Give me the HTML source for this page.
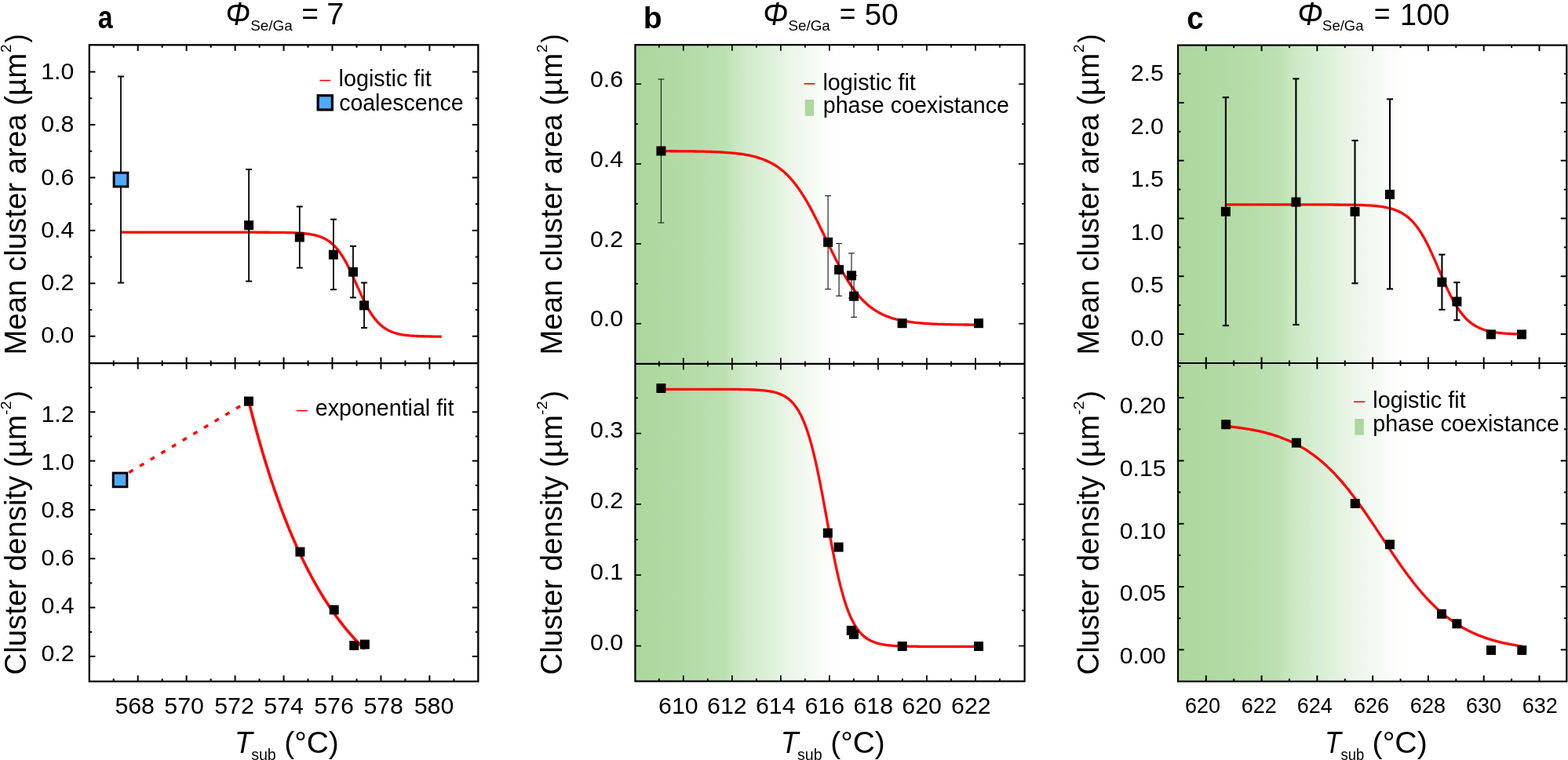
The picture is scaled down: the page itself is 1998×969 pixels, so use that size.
<!DOCTYPE html><html><head><meta charset="utf-8"><title>Cluster figure</title><style>html,body{margin:0;padding:0;background:#fff;overflow:hidden}svg{display:block}</style></head><body><svg width="1998" height="969" viewBox="0 0 1998 969" font-family="'Liberation Sans', Arial, sans-serif" shape-rendering="auto"><defs>
<linearGradient id="gb" gradientUnits="userSpaceOnUse" x1="810" y1="0" x2="1305" y2="0">
<stop offset="0.0000" stop-color="#ADD79E"/>
<stop offset="0.1055" stop-color="#B2DAA4"/>
<stop offset="0.2271" stop-color="#BCE0B1"/>
<stop offset="0.2575" stop-color="#C8E7C1"/>
<stop offset="0.2878" stop-color="#D1EBCB"/>
<stop offset="0.3343" stop-color="#DCEFD7"/>
<stop offset="0.3951" stop-color="#EAF5E8"/>
<stop offset="0.4416" stop-color="#F3F9F1"/>
<stop offset="0.4827" stop-color="#FAFCF9"/>
<stop offset="0.5203" stop-color="#FFFFFF"/>
<stop offset="1" stop-color="#FFFFFF"/>
</linearGradient>
<linearGradient id="gc" gradientUnits="userSpaceOnUse" x1="1501" y1="0" x2="1996" y2="0">
<stop offset="0.0000" stop-color="#ADD79E"/>
<stop offset="0.1192" stop-color="#B2DAA4"/>
<stop offset="0.2566" stop-color="#BCE0B1"/>
<stop offset="0.2909" stop-color="#C8E7C1"/>
<stop offset="0.3253" stop-color="#D1EBCB"/>
<stop offset="0.3778" stop-color="#DCEFD7"/>
<stop offset="0.4465" stop-color="#EAF5E8"/>
<stop offset="0.4990" stop-color="#F3F9F1"/>
<stop offset="0.5455" stop-color="#FAFCF9"/>
<stop offset="0.5879" stop-color="#FFFFFF"/>
<stop offset="1" stop-color="#FFFFFF"/>
</linearGradient>
</defs><rect width="1998" height="969" fill="#fff"/><rect x="809.4" y="57.2" width="496.19999999999993" height="811.4" fill="url(#gb)"/>
<rect x="1501.0" y="57.6" width="495.29999999999995" height="811.1999999999999" fill="url(#gc)"/>
<line x1="175.7" y1="868.8" x2="175.7" y2="861.2" stroke="#000" stroke-width="2"/>
<line x1="175.7" y1="57.3" x2="175.7" y2="64.9" stroke="#000" stroke-width="2"/>
<line x1="175.7" y1="455.5" x2="175.7" y2="470.7" stroke="#000" stroke-width="2"/>
<line x1="237.64" y1="868.8" x2="237.64" y2="861.2" stroke="#000" stroke-width="2"/>
<line x1="237.64" y1="57.3" x2="237.64" y2="64.9" stroke="#000" stroke-width="2"/>
<line x1="237.64" y1="455.5" x2="237.64" y2="470.7" stroke="#000" stroke-width="2"/>
<line x1="299.58" y1="868.8" x2="299.58" y2="861.2" stroke="#000" stroke-width="2"/>
<line x1="299.58" y1="57.3" x2="299.58" y2="64.9" stroke="#000" stroke-width="2"/>
<line x1="299.58" y1="455.5" x2="299.58" y2="470.7" stroke="#000" stroke-width="2"/>
<line x1="361.52" y1="868.8" x2="361.52" y2="861.2" stroke="#000" stroke-width="2"/>
<line x1="361.52" y1="57.3" x2="361.52" y2="64.9" stroke="#000" stroke-width="2"/>
<line x1="361.52" y1="455.5" x2="361.52" y2="470.7" stroke="#000" stroke-width="2"/>
<line x1="423.46" y1="868.8" x2="423.46" y2="861.2" stroke="#000" stroke-width="2"/>
<line x1="423.46" y1="57.3" x2="423.46" y2="64.9" stroke="#000" stroke-width="2"/>
<line x1="423.46" y1="455.5" x2="423.46" y2="470.7" stroke="#000" stroke-width="2"/>
<line x1="485.4" y1="868.8" x2="485.4" y2="861.2" stroke="#000" stroke-width="2"/>
<line x1="485.4" y1="57.3" x2="485.4" y2="64.9" stroke="#000" stroke-width="2"/>
<line x1="485.4" y1="455.5" x2="485.4" y2="470.7" stroke="#000" stroke-width="2"/>
<line x1="547.34" y1="868.8" x2="547.34" y2="861.2" stroke="#000" stroke-width="2"/>
<line x1="547.34" y1="57.3" x2="547.34" y2="64.9" stroke="#000" stroke-width="2"/>
<line x1="547.34" y1="455.5" x2="547.34" y2="470.7" stroke="#000" stroke-width="2"/>
<line x1="144.77" y1="868.8" x2="144.77" y2="865.3" stroke="#000" stroke-width="2"/>
<line x1="144.77" y1="57.3" x2="144.77" y2="60.8" stroke="#000" stroke-width="2"/>
<line x1="144.77" y1="459.6" x2="144.77" y2="466.6" stroke="#000" stroke-width="2"/>
<line x1="206.71" y1="868.8" x2="206.71" y2="865.3" stroke="#000" stroke-width="2"/>
<line x1="206.71" y1="57.3" x2="206.71" y2="60.8" stroke="#000" stroke-width="2"/>
<line x1="206.71" y1="459.6" x2="206.71" y2="466.6" stroke="#000" stroke-width="2"/>
<line x1="268.65" y1="868.8" x2="268.65" y2="865.3" stroke="#000" stroke-width="2"/>
<line x1="268.65" y1="57.3" x2="268.65" y2="60.8" stroke="#000" stroke-width="2"/>
<line x1="268.65" y1="459.6" x2="268.65" y2="466.6" stroke="#000" stroke-width="2"/>
<line x1="330.59" y1="868.8" x2="330.59" y2="865.3" stroke="#000" stroke-width="2"/>
<line x1="330.59" y1="57.3" x2="330.59" y2="60.8" stroke="#000" stroke-width="2"/>
<line x1="330.59" y1="459.6" x2="330.59" y2="466.6" stroke="#000" stroke-width="2"/>
<line x1="392.53" y1="868.8" x2="392.53" y2="865.3" stroke="#000" stroke-width="2"/>
<line x1="392.53" y1="57.3" x2="392.53" y2="60.8" stroke="#000" stroke-width="2"/>
<line x1="392.53" y1="459.6" x2="392.53" y2="466.6" stroke="#000" stroke-width="2"/>
<line x1="454.47" y1="868.8" x2="454.47" y2="865.3" stroke="#000" stroke-width="2"/>
<line x1="454.47" y1="57.3" x2="454.47" y2="60.8" stroke="#000" stroke-width="2"/>
<line x1="454.47" y1="459.6" x2="454.47" y2="466.6" stroke="#000" stroke-width="2"/>
<line x1="516.41" y1="868.8" x2="516.41" y2="865.3" stroke="#000" stroke-width="2"/>
<line x1="516.41" y1="57.3" x2="516.41" y2="60.8" stroke="#000" stroke-width="2"/>
<line x1="516.41" y1="459.6" x2="516.41" y2="466.6" stroke="#000" stroke-width="2"/>
<line x1="578.35" y1="868.8" x2="578.35" y2="865.3" stroke="#000" stroke-width="2"/>
<line x1="578.35" y1="57.3" x2="578.35" y2="60.8" stroke="#000" stroke-width="2"/>
<line x1="578.35" y1="459.6" x2="578.35" y2="466.6" stroke="#000" stroke-width="2"/>
<line x1="113.8" y1="428.7" x2="121.4" y2="428.7" stroke="#000" stroke-width="2"/>
<line x1="609.3" y1="428.7" x2="601.7" y2="428.7" stroke="#000" stroke-width="2"/>
<line x1="113.8" y1="394.99" x2="117.3" y2="394.99" stroke="#000" stroke-width="2"/>
<line x1="609.3" y1="394.99" x2="605.8" y2="394.99" stroke="#000" stroke-width="2"/>
<line x1="113.8" y1="361.28" x2="121.4" y2="361.28" stroke="#000" stroke-width="2"/>
<line x1="609.3" y1="361.28" x2="601.7" y2="361.28" stroke="#000" stroke-width="2"/>
<line x1="113.8" y1="327.57" x2="117.3" y2="327.57" stroke="#000" stroke-width="2"/>
<line x1="609.3" y1="327.57" x2="605.8" y2="327.57" stroke="#000" stroke-width="2"/>
<line x1="113.8" y1="293.86" x2="121.4" y2="293.86" stroke="#000" stroke-width="2"/>
<line x1="609.3" y1="293.86" x2="601.7" y2="293.86" stroke="#000" stroke-width="2"/>
<line x1="113.8" y1="260.15" x2="117.3" y2="260.15" stroke="#000" stroke-width="2"/>
<line x1="609.3" y1="260.15" x2="605.8" y2="260.15" stroke="#000" stroke-width="2"/>
<line x1="113.8" y1="226.44" x2="121.4" y2="226.44" stroke="#000" stroke-width="2"/>
<line x1="609.3" y1="226.44" x2="601.7" y2="226.44" stroke="#000" stroke-width="2"/>
<line x1="113.8" y1="192.73" x2="117.3" y2="192.73" stroke="#000" stroke-width="2"/>
<line x1="609.3" y1="192.73" x2="605.8" y2="192.73" stroke="#000" stroke-width="2"/>
<line x1="113.8" y1="159.02" x2="121.4" y2="159.02" stroke="#000" stroke-width="2"/>
<line x1="609.3" y1="159.02" x2="601.7" y2="159.02" stroke="#000" stroke-width="2"/>
<line x1="113.8" y1="125.31" x2="117.3" y2="125.31" stroke="#000" stroke-width="2"/>
<line x1="609.3" y1="125.31" x2="605.8" y2="125.31" stroke="#000" stroke-width="2"/>
<line x1="113.8" y1="91.6" x2="121.4" y2="91.6" stroke="#000" stroke-width="2"/>
<line x1="609.3" y1="91.6" x2="601.7" y2="91.6" stroke="#000" stroke-width="2"/>
<line x1="113.8" y1="836.9" x2="121.4" y2="836.9" stroke="#000" stroke-width="2"/>
<line x1="609.3" y1="836.9" x2="601.7" y2="836.9" stroke="#000" stroke-width="2"/>
<line x1="113.8" y1="805.74" x2="117.3" y2="805.74" stroke="#000" stroke-width="2"/>
<line x1="609.3" y1="805.74" x2="605.8" y2="805.74" stroke="#000" stroke-width="2"/>
<line x1="113.8" y1="774.58" x2="121.4" y2="774.58" stroke="#000" stroke-width="2"/>
<line x1="609.3" y1="774.58" x2="601.7" y2="774.58" stroke="#000" stroke-width="2"/>
<line x1="113.8" y1="743.42" x2="117.3" y2="743.42" stroke="#000" stroke-width="2"/>
<line x1="609.3" y1="743.42" x2="605.8" y2="743.42" stroke="#000" stroke-width="2"/>
<line x1="113.8" y1="712.26" x2="121.4" y2="712.26" stroke="#000" stroke-width="2"/>
<line x1="609.3" y1="712.26" x2="601.7" y2="712.26" stroke="#000" stroke-width="2"/>
<line x1="113.8" y1="681.1" x2="117.3" y2="681.1" stroke="#000" stroke-width="2"/>
<line x1="609.3" y1="681.1" x2="605.8" y2="681.1" stroke="#000" stroke-width="2"/>
<line x1="113.8" y1="649.94" x2="121.4" y2="649.94" stroke="#000" stroke-width="2"/>
<line x1="609.3" y1="649.94" x2="601.7" y2="649.94" stroke="#000" stroke-width="2"/>
<line x1="113.8" y1="618.78" x2="117.3" y2="618.78" stroke="#000" stroke-width="2"/>
<line x1="609.3" y1="618.78" x2="605.8" y2="618.78" stroke="#000" stroke-width="2"/>
<line x1="113.8" y1="587.62" x2="121.4" y2="587.62" stroke="#000" stroke-width="2"/>
<line x1="609.3" y1="587.62" x2="601.7" y2="587.62" stroke="#000" stroke-width="2"/>
<line x1="113.8" y1="556.46" x2="117.3" y2="556.46" stroke="#000" stroke-width="2"/>
<line x1="609.3" y1="556.46" x2="605.8" y2="556.46" stroke="#000" stroke-width="2"/>
<line x1="113.8" y1="525.3" x2="121.4" y2="525.3" stroke="#000" stroke-width="2"/>
<line x1="609.3" y1="525.3" x2="601.7" y2="525.3" stroke="#000" stroke-width="2"/>
<line x1="113.8" y1="494.14" x2="117.3" y2="494.14" stroke="#000" stroke-width="2"/>
<line x1="609.3" y1="494.14" x2="605.8" y2="494.14" stroke="#000" stroke-width="2"/>
<rect x="113.8" y="57.3" width="495.5" height="811.5" fill="none" stroke="#000" stroke-width="2.3"/>
<line x1="113.8" y1="463.1" x2="609.3" y2="463.1" stroke="#000" stroke-width="2.3"/>
<text x="171.7" y="909.6" font-size="30.3" text-anchor="middle">568</text>
<text x="234.65" y="909.6" font-size="30.3" text-anchor="middle">570</text>
<text x="298.55" y="909.6" font-size="30.3" text-anchor="middle">572</text>
<text x="361.6" y="909.6" font-size="30.3" text-anchor="middle">574</text>
<text x="425.5" y="909.6" font-size="30.3" text-anchor="middle">576</text>
<text x="488.7" y="909.6" font-size="30.3" text-anchor="middle">578</text>
<text x="553" y="909.6" font-size="30.3" text-anchor="middle">580</text>
<text x="94.3" y="437.3" font-size="30.3" text-anchor="end">0.0</text>
<text x="94.3" y="370.3" font-size="30.3" text-anchor="end">0.2</text>
<text x="94.3" y="303.4" font-size="30.3" text-anchor="end">0.4</text>
<text x="94.3" y="235.8" font-size="30.3" text-anchor="end">0.6</text>
<text x="94.3" y="168.3" font-size="30.3" text-anchor="end">0.8</text>
<text x="94.3" y="101.3" font-size="30.3" text-anchor="end">1.0</text>
<text x="94.6" y="843.2" font-size="30.3" text-anchor="end">0.2</text>
<text x="94.6" y="782.2" font-size="30.3" text-anchor="end">0.4</text>
<text x="94.6" y="721.2" font-size="30.3" text-anchor="end">0.6</text>
<text x="94.6" y="659.8" font-size="30.3" text-anchor="end">0.8</text>
<text x="94.6" y="599.1" font-size="30.3" text-anchor="end">1.0</text>
<text x="94.6" y="537.9" font-size="30.3" text-anchor="end">1.2</text>
<path d="M154.80,296.20 L158.20,296.20 L161.60,296.20 L165.00,296.20 L168.40,296.20 L171.80,296.20 L175.20,296.20 L178.60,296.20 L182.00,296.20 L185.40,296.20 L188.80,296.20 L192.20,296.20 L195.60,296.20 L199.00,296.20 L202.40,296.20 L205.80,296.20 L209.20,296.20 L212.60,296.20 L216.00,296.20 L219.40,296.20 L222.80,296.20 L226.20,296.20 L229.60,296.20 L233.00,296.20 L236.40,296.20 L239.80,296.20 L243.20,296.20 L246.60,296.20 L250.00,296.20 L253.40,296.20 L256.80,296.20 L260.20,296.20 L263.60,296.20 L267.00,296.20 L270.40,296.20 L273.80,296.20 L277.20,296.20 L280.60,296.20 L284.00,296.20 L287.40,296.20 L290.80,296.20 L294.20,296.20 L297.60,296.20 L301.00,296.20 L304.40,296.21 L307.80,296.21 L311.20,296.21 L314.60,296.21 L318.00,296.21 L321.40,296.22 L324.80,296.22 L328.20,296.23 L331.60,296.23 L335.00,296.24 L338.40,296.25 L341.80,296.27 L345.20,296.28 L348.60,296.30 L352.00,296.33 L355.40,296.37 L358.80,296.41 L362.20,296.46 L365.60,296.53 L369.00,296.62 L372.40,296.72 L375.80,296.86 L379.20,297.03 L382.60,297.24 L386.00,297.50 L389.40,297.83 L392.80,298.25 L396.20,298.77 L399.60,299.42 L403.00,300.22 L406.40,301.23 L409.80,302.46 L413.20,303.99 L416.60,305.85 L420.00,308.12 L423.40,310.87 L426.80,314.15 L430.20,318.02 L433.60,322.55 L437.00,327.74 L440.40,333.60 L443.80,340.08 L447.20,347.08 L450.60,354.47 L454.00,362.07 L457.40,369.69 L460.80,377.13 L464.20,384.20 L467.60,390.77 L471.00,396.74 L474.40,402.04 L477.80,406.68 L481.20,410.66 L484.60,414.03 L488.00,416.86 L491.40,419.20 L494.80,421.13 L498.20,422.71 L501.60,423.99 L505.00,425.03 L508.40,425.86 L511.80,426.53 L515.20,427.07 L518.60,427.50 L522.00,427.85 L525.40,428.12 L528.80,428.34 L532.20,428.52 L535.60,428.66 L539.00,428.77 L542.40,428.86 L545.80,428.93 L549.20,428.98 L552.60,429.03 L556.00,429.06 L559.40,429.09 L562.80,429.11" fill="none" stroke="#FF0000" stroke-width="3.3" stroke-linejoin="round"/>
<line x1="154" y1="97.5" x2="154" y2="360.5" stroke="#000" stroke-width="1.8"/>
<line x1="150" y1="97.5" x2="158" y2="97.5" stroke="#000" stroke-width="2"/>
<line x1="150" y1="360.5" x2="158" y2="360.5" stroke="#000" stroke-width="2"/>
<rect x="145.15" y="220.25" width="17.7" height="17.7" fill="#50AAFF" stroke="#000" stroke-width="3"/>
<line x1="317.1" y1="216" x2="317.1" y2="358.6" stroke="#000" stroke-width="1.8"/>
<line x1="313.1" y1="216" x2="321.1" y2="216" stroke="#000" stroke-width="2"/>
<line x1="313.1" y1="358.6" x2="321.1" y2="358.6" stroke="#000" stroke-width="2"/>
<rect x="311.1" y="281.2" width="12" height="12" fill="#000"/>
<line x1="381.8" y1="263.4" x2="381.8" y2="341.5" stroke="#000" stroke-width="1.8"/>
<line x1="377.8" y1="263.4" x2="385.8" y2="263.4" stroke="#000" stroke-width="2"/>
<line x1="377.8" y1="341.5" x2="385.8" y2="341.5" stroke="#000" stroke-width="2"/>
<rect x="375.8" y="296.5" width="12" height="12" fill="#000"/>
<line x1="424.9" y1="279.7" x2="424.9" y2="369.2" stroke="#000" stroke-width="1.8"/>
<line x1="420.9" y1="279.7" x2="428.9" y2="279.7" stroke="#000" stroke-width="2"/>
<line x1="420.9" y1="369.2" x2="428.9" y2="369.2" stroke="#000" stroke-width="2"/>
<rect x="418.9" y="318.7" width="12" height="12" fill="#000"/>
<line x1="449.9" y1="313.8" x2="449.9" y2="379.4" stroke="#000" stroke-width="1.8"/>
<line x1="445.9" y1="313.8" x2="453.9" y2="313.8" stroke="#000" stroke-width="2"/>
<line x1="445.9" y1="379.4" x2="453.9" y2="379.4" stroke="#000" stroke-width="2"/>
<rect x="443.9" y="340.7" width="12" height="12" fill="#000"/>
<line x1="464" y1="360.5" x2="464" y2="418" stroke="#000" stroke-width="1.8"/>
<line x1="460" y1="360.5" x2="468" y2="360.5" stroke="#000" stroke-width="2"/>
<line x1="460" y1="418" x2="468" y2="418" stroke="#000" stroke-width="2"/>
<rect x="458" y="383.4" width="12" height="12" fill="#000"/>
<line x1="407.3" y1="102.6" x2="421.2" y2="102.6" stroke="#FF0000" stroke-width="1.6"/>
<text x="431.58" y="110" font-size="29" textLength="118.08" lengthAdjust="spacingAndGlyphs">logistic fit</text>
<rect x="405.15" y="121.75" width="18.2" height="18.2" fill="#50AAFF" stroke="#000" stroke-width="3.2"/>
<text x="432.17" y="140.8" font-size="29" textLength="158.44" lengthAdjust="spacingAndGlyphs">coalescence</text>
<path d="M163.4,603 L308.4,516.4" fill="none" stroke="#FF0000" stroke-width="3.5" stroke-linejoin="round" stroke-dasharray="6 9.9" stroke-dashoffset="-1.2"/>
<path d="M316.50,509.85 L317.73,514.79 L318.97,519.67 L320.20,524.49 L321.43,529.26 L322.67,533.96 L323.90,538.62 L325.13,543.22 L326.37,547.76 L327.60,552.25 L328.83,556.69 L330.07,561.07 L331.30,565.41 L332.53,569.69 L333.77,573.92 L335.00,578.10 L336.23,582.24 L337.47,586.32 L338.70,590.35 L339.93,594.34 L341.17,598.28 L342.40,602.18 L343.63,606.03 L344.87,609.83 L346.10,613.59 L347.33,617.30 L348.57,620.97 L349.80,624.60 L351.03,628.18 L352.27,631.72 L353.50,635.22 L354.73,638.68 L355.97,642.09 L357.20,645.47 L358.43,648.81 L359.67,652.11 L360.90,655.36 L362.13,658.59 L363.37,661.77 L364.60,664.91 L365.83,668.02 L367.07,671.09 L368.30,674.12 L369.53,677.12 L370.77,680.09 L372.00,683.02 L373.23,685.91 L374.47,688.77 L375.70,691.59 L376.93,694.39 L378.17,697.15 L379.40,699.87 L380.63,702.57 L381.87,705.23 L383.10,707.86 L384.33,710.46 L385.57,713.03 L386.80,715.57 L388.03,718.08 L389.27,720.56 L390.50,723.01 L391.73,725.43 L392.97,727.83 L394.20,730.19 L395.43,732.53 L396.67,734.84 L397.90,737.12 L399.13,739.37 L400.37,741.60 L401.60,743.81 L402.83,745.98 L404.07,748.13 L405.30,750.26 L406.53,752.36 L407.77,754.43 L409.00,756.48 L410.23,758.51 L411.47,760.51 L412.70,762.49 L413.93,764.45 L415.17,766.38 L416.40,768.29 L417.63,770.17 L418.87,772.04 L420.10,773.88 L421.33,775.70 L422.57,777.50 L423.80,779.28 L425.03,781.04 L426.27,782.78 L427.50,784.49 L428.73,786.19 L429.97,787.86 L431.20,789.52 L432.43,791.16 L433.67,792.77 L434.90,794.37 L436.13,795.95 L437.37,797.51 L438.60,799.05 L439.83,800.58 L441.07,802.08 L442.30,803.57 L443.53,805.04 L444.77,806.49 L446.00,807.93 L447.23,809.35 L448.47,810.75 L449.70,812.14 L450.93,813.51 L452.17,814.86 L453.40,816.20 L454.63,817.52 L455.87,818.82 L457.10,820.11 L458.33,821.39 L459.57,822.65 L460.80,823.90 L462.03,825.13 L463.27,826.34 L464.50,827.54" fill="none" stroke="#FF0000" stroke-width="3.6" stroke-linejoin="round"/>
<rect x="144.25" y="603.1" width="17.6" height="17.6" fill="#50AAFF" stroke="#000" stroke-width="3"/>
<rect x="310.9" y="505.6" width="12" height="12" fill="#000"/>
<rect x="376.4" y="697.6" width="12" height="12" fill="#000"/>
<rect x="419.7" y="771.5" width="12" height="12" fill="#000"/>
<rect x="445.2" y="817" width="12" height="12" fill="#000"/>
<rect x="458.8" y="815.6" width="12" height="12" fill="#000"/>
<line x1="377.8" y1="523.6" x2="391.9" y2="523.6" stroke="#FF0000" stroke-width="1.6"/>
<text x="401.86" y="529.7" font-size="29" textLength="176.56" lengthAdjust="spacingAndGlyphs">exponential fit</text>
<text x="124.63" y="36.2" font-size="40" font-weight="bold" textLength="18.89" lengthAdjust="spacingAndGlyphs">a</text>
<text x="287.4" y="31.8" font-size="42.5" font-style="italic" textLength="31.44" lengthAdjust="spacingAndGlyphs">Φ</text>
<text x="319.2" y="38.8" font-size="19" textLength="53.45" lengthAdjust="spacingAndGlyphs">Se/Ga</text>
<text x="384.19" y="31.1" font-size="38" textLength="21.67" lengthAdjust="spacingAndGlyphs">=</text>
<text x="416.36" y="31.1" font-size="38" textLength="22.12" lengthAdjust="spacingAndGlyphs">7</text>
<text transform="translate(33.2,452.62) rotate(-90)" x="0" y="0" font-size="38" textLength="384.73" lengthAdjust="spacingAndGlyphs">Mean cluster area (µm</text>
<text transform="translate(14,66.9) rotate(-90)" x="0" y="0" font-size="19" textLength="10.51" lengthAdjust="spacingAndGlyphs">2</text>
<text transform="translate(33.2,54.48) rotate(-90)" x="0" y="0" font-size="37" textLength="11.02" lengthAdjust="spacingAndGlyphs">)</text>
<text transform="translate(33.2,860.47) rotate(-90)" x="0" y="0" font-size="38" textLength="331.37" lengthAdjust="spacingAndGlyphs">Cluster density (µm</text>
<text transform="translate(14,528.94) rotate(-90)" x="0" y="0" font-size="19" textLength="17.56" lengthAdjust="spacingAndGlyphs">-2</text>
<text transform="translate(33.2,510.22) rotate(-90)" x="0" y="0" font-size="37" textLength="12.17" lengthAdjust="spacingAndGlyphs">)</text>
<text x="298.93" y="959.6" font-size="39.5" font-style="italic" textLength="22.54" lengthAdjust="spacingAndGlyphs">T</text>
<text x="320.16" y="968.6" font-size="20" textLength="31.62" lengthAdjust="spacingAndGlyphs">sub</text>
<text x="362.32" y="960.2" font-size="39.5" textLength="69.48" lengthAdjust="spacingAndGlyphs">(°C)</text>
<line x1="870.8" y1="868.6" x2="870.8" y2="861" stroke="#000" stroke-width="1.7"/>
<line x1="870.8" y1="57.2" x2="870.8" y2="64.8" stroke="#000" stroke-width="1.7"/>
<line x1="870.8" y1="456.3" x2="870.8" y2="471.5" stroke="#000" stroke-width="1.7"/>
<line x1="932.83" y1="868.6" x2="932.83" y2="861" stroke="#000" stroke-width="1.7"/>
<line x1="932.83" y1="57.2" x2="932.83" y2="64.8" stroke="#000" stroke-width="1.7"/>
<line x1="932.83" y1="456.3" x2="932.83" y2="471.5" stroke="#000" stroke-width="1.7"/>
<line x1="994.86" y1="868.6" x2="994.86" y2="861" stroke="#000" stroke-width="1.7"/>
<line x1="994.86" y1="57.2" x2="994.86" y2="64.8" stroke="#000" stroke-width="1.7"/>
<line x1="994.86" y1="456.3" x2="994.86" y2="471.5" stroke="#000" stroke-width="1.7"/>
<line x1="1056.89" y1="868.6" x2="1056.89" y2="861" stroke="#000" stroke-width="1.7"/>
<line x1="1056.89" y1="57.2" x2="1056.89" y2="64.8" stroke="#000" stroke-width="1.7"/>
<line x1="1056.89" y1="456.3" x2="1056.89" y2="471.5" stroke="#000" stroke-width="1.7"/>
<line x1="1118.92" y1="868.6" x2="1118.92" y2="861" stroke="#000" stroke-width="1.7"/>
<line x1="1118.92" y1="57.2" x2="1118.92" y2="64.8" stroke="#000" stroke-width="1.7"/>
<line x1="1118.92" y1="456.3" x2="1118.92" y2="471.5" stroke="#000" stroke-width="1.7"/>
<line x1="1180.95" y1="868.6" x2="1180.95" y2="861" stroke="#000" stroke-width="1.7"/>
<line x1="1180.95" y1="57.2" x2="1180.95" y2="64.8" stroke="#000" stroke-width="1.7"/>
<line x1="1180.95" y1="456.3" x2="1180.95" y2="471.5" stroke="#000" stroke-width="1.7"/>
<line x1="1242.98" y1="868.6" x2="1242.98" y2="861" stroke="#000" stroke-width="1.7"/>
<line x1="1242.98" y1="57.2" x2="1242.98" y2="64.8" stroke="#000" stroke-width="1.7"/>
<line x1="1242.98" y1="456.3" x2="1242.98" y2="471.5" stroke="#000" stroke-width="1.7"/>
<line x1="839.8" y1="868.6" x2="839.8" y2="865.1" stroke="#000" stroke-width="1.7"/>
<line x1="839.8" y1="57.2" x2="839.8" y2="60.7" stroke="#000" stroke-width="1.7"/>
<line x1="839.8" y1="460.4" x2="839.8" y2="467.4" stroke="#000" stroke-width="1.7"/>
<line x1="901.83" y1="868.6" x2="901.83" y2="865.1" stroke="#000" stroke-width="1.7"/>
<line x1="901.83" y1="57.2" x2="901.83" y2="60.7" stroke="#000" stroke-width="1.7"/>
<line x1="901.83" y1="460.4" x2="901.83" y2="467.4" stroke="#000" stroke-width="1.7"/>
<line x1="963.86" y1="868.6" x2="963.86" y2="865.1" stroke="#000" stroke-width="1.7"/>
<line x1="963.86" y1="57.2" x2="963.86" y2="60.7" stroke="#000" stroke-width="1.7"/>
<line x1="963.86" y1="460.4" x2="963.86" y2="467.4" stroke="#000" stroke-width="1.7"/>
<line x1="1025.89" y1="868.6" x2="1025.89" y2="865.1" stroke="#000" stroke-width="1.7"/>
<line x1="1025.89" y1="57.2" x2="1025.89" y2="60.7" stroke="#000" stroke-width="1.7"/>
<line x1="1025.89" y1="460.4" x2="1025.89" y2="467.4" stroke="#000" stroke-width="1.7"/>
<line x1="1087.92" y1="868.6" x2="1087.92" y2="865.1" stroke="#000" stroke-width="1.7"/>
<line x1="1087.92" y1="57.2" x2="1087.92" y2="60.7" stroke="#000" stroke-width="1.7"/>
<line x1="1087.92" y1="460.4" x2="1087.92" y2="467.4" stroke="#000" stroke-width="1.7"/>
<line x1="1149.95" y1="868.6" x2="1149.95" y2="865.1" stroke="#000" stroke-width="1.7"/>
<line x1="1149.95" y1="57.2" x2="1149.95" y2="60.7" stroke="#000" stroke-width="1.7"/>
<line x1="1149.95" y1="460.4" x2="1149.95" y2="467.4" stroke="#000" stroke-width="1.7"/>
<line x1="1211.98" y1="868.6" x2="1211.98" y2="865.1" stroke="#000" stroke-width="1.7"/>
<line x1="1211.98" y1="57.2" x2="1211.98" y2="60.7" stroke="#000" stroke-width="1.7"/>
<line x1="1211.98" y1="460.4" x2="1211.98" y2="467.4" stroke="#000" stroke-width="1.7"/>
<line x1="1274.01" y1="868.6" x2="1274.01" y2="865.1" stroke="#000" stroke-width="1.7"/>
<line x1="1274.01" y1="57.2" x2="1274.01" y2="60.7" stroke="#000" stroke-width="1.7"/>
<line x1="1274.01" y1="460.4" x2="1274.01" y2="467.4" stroke="#000" stroke-width="1.7"/>
<line x1="809.4" y1="412.7" x2="817" y2="412.7" stroke="#000" stroke-width="1.7"/>
<line x1="1305.6" y1="412.7" x2="1298" y2="412.7" stroke="#000" stroke-width="1.7"/>
<line x1="809.4" y1="361.78" x2="812.9" y2="361.78" stroke="#000" stroke-width="1.7"/>
<line x1="1305.6" y1="361.78" x2="1302.1" y2="361.78" stroke="#000" stroke-width="1.7"/>
<line x1="809.4" y1="310.86" x2="817" y2="310.86" stroke="#000" stroke-width="1.7"/>
<line x1="1305.6" y1="310.86" x2="1298" y2="310.86" stroke="#000" stroke-width="1.7"/>
<line x1="809.4" y1="259.94" x2="812.9" y2="259.94" stroke="#000" stroke-width="1.7"/>
<line x1="1305.6" y1="259.94" x2="1302.1" y2="259.94" stroke="#000" stroke-width="1.7"/>
<line x1="809.4" y1="209.02" x2="817" y2="209.02" stroke="#000" stroke-width="1.7"/>
<line x1="1305.6" y1="209.02" x2="1298" y2="209.02" stroke="#000" stroke-width="1.7"/>
<line x1="809.4" y1="158.1" x2="812.9" y2="158.1" stroke="#000" stroke-width="1.7"/>
<line x1="1305.6" y1="158.1" x2="1302.1" y2="158.1" stroke="#000" stroke-width="1.7"/>
<line x1="809.4" y1="107.18" x2="817" y2="107.18" stroke="#000" stroke-width="1.7"/>
<line x1="1305.6" y1="107.18" x2="1298" y2="107.18" stroke="#000" stroke-width="1.7"/>
<line x1="809.4" y1="823.5" x2="817" y2="823.5" stroke="#000" stroke-width="1.7"/>
<line x1="1305.6" y1="823.5" x2="1298" y2="823.5" stroke="#000" stroke-width="1.7"/>
<line x1="809.4" y1="778.35" x2="812.9" y2="778.35" stroke="#000" stroke-width="1.7"/>
<line x1="1305.6" y1="778.35" x2="1302.1" y2="778.35" stroke="#000" stroke-width="1.7"/>
<line x1="809.4" y1="733.2" x2="817" y2="733.2" stroke="#000" stroke-width="1.7"/>
<line x1="1305.6" y1="733.2" x2="1298" y2="733.2" stroke="#000" stroke-width="1.7"/>
<line x1="809.4" y1="688.05" x2="812.9" y2="688.05" stroke="#000" stroke-width="1.7"/>
<line x1="1305.6" y1="688.05" x2="1302.1" y2="688.05" stroke="#000" stroke-width="1.7"/>
<line x1="809.4" y1="642.9" x2="817" y2="642.9" stroke="#000" stroke-width="1.7"/>
<line x1="1305.6" y1="642.9" x2="1298" y2="642.9" stroke="#000" stroke-width="1.7"/>
<line x1="809.4" y1="597.75" x2="812.9" y2="597.75" stroke="#000" stroke-width="1.7"/>
<line x1="1305.6" y1="597.75" x2="1302.1" y2="597.75" stroke="#000" stroke-width="1.7"/>
<line x1="809.4" y1="552.6" x2="817" y2="552.6" stroke="#000" stroke-width="1.7"/>
<line x1="1305.6" y1="552.6" x2="1298" y2="552.6" stroke="#000" stroke-width="1.7"/>
<line x1="809.4" y1="507.45" x2="812.9" y2="507.45" stroke="#000" stroke-width="1.7"/>
<line x1="1305.6" y1="507.45" x2="1302.1" y2="507.45" stroke="#000" stroke-width="1.7"/>
<rect x="809.4" y="57.2" width="496.2" height="811.4" fill="none" stroke="#000" stroke-width="2.2"/>
<line x1="809.4" y1="463.9" x2="1305.6" y2="463.9" stroke="#000" stroke-width="2.2"/>
<text x="864.4" y="909.6" font-size="30.3" text-anchor="middle">610</text>
<text x="926.4" y="909.6" font-size="30.3" text-anchor="middle">612</text>
<text x="988.3" y="909.6" font-size="30.3" text-anchor="middle">614</text>
<text x="1050.9" y="909.6" font-size="30.3" text-anchor="middle">616</text>
<text x="1112.8" y="909.6" font-size="30.3" text-anchor="middle">618</text>
<text x="1174.6" y="909.6" font-size="30.3" text-anchor="middle">620</text>
<text x="1237.4" y="909.6" font-size="30.3" text-anchor="middle">622</text>
<text x="794" y="416.4" font-size="30.3" text-anchor="end">0.0</text>
<text x="794" y="314.5" font-size="30.3" text-anchor="end">0.2</text>
<text x="794" y="212.6" font-size="30.3" text-anchor="end">0.4</text>
<text x="794" y="110.7" font-size="30.3" text-anchor="end">0.6</text>
<text x="794" y="828.9" font-size="30.3" text-anchor="end">0.0</text>
<text x="794" y="739" font-size="30.3" text-anchor="end">0.1</text>
<text x="794" y="648.3" font-size="30.3" text-anchor="end">0.2</text>
<text x="794" y="557.5" font-size="30.3" text-anchor="end">0.3</text>
<path d="M842.40,192.67 L845.77,192.68 L849.14,192.70 L852.51,192.71 L855.89,192.73 L859.26,192.74 L862.63,192.77 L866.00,192.79 L869.37,192.82 L872.75,192.85 L876.12,192.88 L879.49,192.92 L882.86,192.97 L886.23,193.02 L889.60,193.08 L892.98,193.14 L896.35,193.22 L899.72,193.30 L903.09,193.40 L906.46,193.51 L909.83,193.63 L913.20,193.77 L916.58,193.93 L919.95,194.11 L923.32,194.31 L926.69,194.54 L930.06,194.81 L933.43,195.10 L936.81,195.44 L940.18,195.82 L943.55,196.25 L946.92,196.74 L950.29,197.29 L953.66,197.92 L957.04,198.62 L960.41,199.41 L963.78,200.31 L967.15,201.32 L970.52,202.45 L973.89,203.72 L977.27,205.14 L980.64,206.74 L984.01,208.52 L987.38,210.51 L990.75,212.72 L994.12,215.17 L997.50,217.89 L1000.87,220.88 L1004.24,224.18 L1007.61,227.78 L1010.98,231.72 L1014.36,235.99 L1017.73,240.60 L1021.10,245.56 L1024.47,250.86 L1027.84,256.49 L1031.21,262.43 L1034.59,268.66 L1037.96,275.14 L1041.33,281.84 L1044.70,288.70 L1048.07,295.68 L1051.44,302.72 L1054.82,309.76 L1058.19,316.76 L1061.56,323.65 L1064.93,330.38 L1068.30,336.90 L1071.67,343.18 L1075.05,349.18 L1078.42,354.88 L1081.79,360.24 L1085.16,365.27 L1088.53,369.96 L1091.90,374.30 L1095.28,378.30 L1098.65,381.97 L1102.02,385.32 L1105.39,388.38 L1108.76,391.15 L1112.13,393.65 L1115.50,395.91 L1118.88,397.94 L1122.25,399.76 L1125.62,401.39 L1128.99,402.85 L1132.36,404.15 L1135.74,405.31 L1139.11,406.34 L1142.48,407.25 L1145.85,408.07 L1149.22,408.79 L1152.59,409.43 L1155.96,409.99 L1159.34,410.49 L1162.71,410.93 L1166.08,411.33 L1169.45,411.67 L1172.82,411.98 L1176.19,412.25 L1179.57,412.48 L1182.94,412.69 L1186.31,412.88 L1189.68,413.04 L1193.05,413.18 L1196.42,413.31 L1199.80,413.42 L1203.17,413.52 L1206.54,413.61 L1209.91,413.68 L1213.28,413.75 L1216.65,413.81 L1220.03,413.86 L1223.40,413.91 L1226.77,413.95 L1230.14,413.99 L1233.51,414.02 L1236.88,414.05 L1240.26,414.07 L1243.63,414.09 L1247.00,414.11" fill="none" stroke="#FF0000" stroke-width="3.3" stroke-linejoin="round"/>
<line x1="842.4" y1="101" x2="842.4" y2="284" stroke="#222" stroke-width="1.2"/>
<line x1="838.5" y1="101" x2="846.3" y2="101" stroke="#222" stroke-width="1.2"/>
<line x1="838.5" y1="284" x2="846.3" y2="284" stroke="#222" stroke-width="1.2"/>
<line x1="1055.1" y1="249.6" x2="1055.1" y2="368.7" stroke="#222" stroke-width="1.2"/>
<line x1="1051.2" y1="249.6" x2="1059" y2="249.6" stroke="#222" stroke-width="1.2"/>
<line x1="1051.2" y1="368.7" x2="1059" y2="368.7" stroke="#222" stroke-width="1.2"/>
<line x1="1069.1" y1="310.5" x2="1069.1" y2="377.3" stroke="#222" stroke-width="1.2"/>
<line x1="1065.2" y1="310.5" x2="1073" y2="310.5" stroke="#222" stroke-width="1.2"/>
<line x1="1065.2" y1="377.3" x2="1073" y2="377.3" stroke="#222" stroke-width="1.2"/>
<line x1="1085" y1="322.9" x2="1085" y2="380" stroke="#222" stroke-width="1.2"/>
<line x1="1081.1" y1="322.9" x2="1088.9" y2="322.9" stroke="#222" stroke-width="1.2"/>
<line x1="1081.1" y1="380" x2="1088.9" y2="380" stroke="#222" stroke-width="1.2"/>
<line x1="1088.1" y1="351.3" x2="1088.1" y2="404.4" stroke="#222" stroke-width="1.2"/>
<line x1="1084.2" y1="351.3" x2="1092" y2="351.3" stroke="#222" stroke-width="1.2"/>
<line x1="1084.2" y1="404.4" x2="1092" y2="404.4" stroke="#222" stroke-width="1.2"/>
<rect x="836.4" y="186.5" width="12" height="12" fill="#000"/>
<rect x="1049.1" y="302.8" width="12" height="12" fill="#000"/>
<rect x="1063.1" y="337.9" width="12" height="12" fill="#000"/>
<rect x="1079" y="345.3" width="12" height="12" fill="#000"/>
<rect x="1082.1" y="371.7" width="12" height="12" fill="#000"/>
<rect x="1143.6" y="406.2" width="12" height="12" fill="#000"/>
<rect x="1241" y="406.2" width="12" height="12" fill="#000"/>
<line x1="1024.5" y1="106.8" x2="1038.6" y2="106.8" stroke="#FF0000" stroke-width="1.6"/>
<text x="1048.38" y="114.8" font-size="29" textLength="118.48" lengthAdjust="spacingAndGlyphs">logistic fit</text>
<rect x="1025.7" y="127.1" width="11.4" height="20.7" fill="#ADD79E"/>
<text x="1048.79" y="144.2" font-size="29" textLength="237.1" lengthAdjust="spacingAndGlyphs">phase coexistance</text>
<path d="M842.20,496.30 L845.57,496.30 L848.95,496.30 L852.32,496.30 L855.69,496.30 L859.07,496.30 L862.44,496.30 L865.81,496.30 L869.19,496.30 L872.56,496.30 L875.93,496.30 L879.31,496.30 L882.68,496.30 L886.05,496.30 L889.43,496.31 L892.80,496.31 L896.17,496.31 L899.55,496.31 L902.92,496.31 L906.29,496.32 L909.67,496.32 L913.04,496.33 L916.41,496.33 L919.79,496.34 L923.16,496.35 L926.53,496.37 L929.91,496.39 L933.28,496.41 L936.65,496.43 L940.03,496.47 L943.40,496.51 L946.77,496.56 L950.15,496.63 L953.52,496.72 L956.89,496.82 L960.27,496.95 L963.64,497.12 L967.01,497.32 L970.39,497.58 L973.76,497.90 L977.13,498.30 L980.51,498.81 L983.88,499.44 L987.25,500.22 L990.63,501.20 L994.00,502.41 L997.37,503.92 L1000.75,505.79 L1004.12,508.11 L1007.49,510.96 L1010.87,514.46 L1014.24,518.74 L1017.61,523.94 L1020.99,530.21 L1024.36,537.70 L1027.73,546.57 L1031.11,556.93 L1034.48,568.88 L1037.85,582.41 L1041.23,597.48 L1044.60,613.90 L1047.97,631.40 L1051.35,649.60 L1054.72,668.08 L1058.09,686.36 L1061.47,704.00 L1064.84,720.61 L1068.21,735.92 L1071.59,749.71 L1074.96,761.92 L1078.33,772.54 L1081.71,781.64 L1085.08,789.35 L1088.45,795.81 L1091.83,801.17 L1095.20,805.59 L1098.57,809.22 L1101.95,812.17 L1105.32,814.56 L1108.69,816.50 L1112.07,818.06 L1115.44,819.32 L1118.81,820.34 L1122.19,821.15 L1125.56,821.80 L1128.93,822.32 L1132.31,822.74 L1135.68,823.07 L1139.05,823.34 L1142.43,823.55 L1145.80,823.72 L1149.17,823.86 L1152.55,823.97 L1155.92,824.06 L1159.29,824.13 L1162.67,824.18 L1166.04,824.22 L1169.41,824.26 L1172.79,824.29 L1176.16,824.31 L1179.53,824.33 L1182.91,824.34 L1186.28,824.35 L1189.65,824.36 L1193.03,824.37 L1196.40,824.38 L1199.77,824.38 L1203.15,824.39 L1206.52,824.39 L1209.89,824.39 L1213.27,824.39 L1216.64,824.39 L1220.01,824.40 L1223.39,824.40 L1226.76,824.40 L1230.13,824.40 L1233.51,824.40 L1236.88,824.40 L1240.25,824.40 L1243.63,824.40 L1247.00,824.40" fill="none" stroke="#FF0000" stroke-width="3.3" stroke-linejoin="round"/>
<rect x="836.4" y="489" width="12" height="12" fill="#000"/>
<rect x="1048.8" y="673.6" width="12" height="12" fill="#000"/>
<rect x="1062.6" y="691.6" width="12" height="12" fill="#000"/>
<rect x="1078.8" y="797.8" width="12" height="12" fill="#000"/>
<rect x="1082" y="802.8" width="12" height="12" fill="#000"/>
<rect x="1143.7" y="818" width="12" height="12" fill="#000"/>
<rect x="1241" y="818" width="12" height="12" fill="#000"/>
<text x="819.71" y="36.2" font-size="38" font-weight="bold" textLength="23.83" lengthAdjust="spacingAndGlyphs">b</text>
<text x="972.26" y="31.8" font-size="42.5" font-style="italic" textLength="32.01" lengthAdjust="spacingAndGlyphs">Φ</text>
<text x="1004.4" y="38.8" font-size="19" textLength="53.35" lengthAdjust="spacingAndGlyphs">Se/Ga</text>
<text x="1069.78" y="31.1" font-size="38" textLength="20.71" lengthAdjust="spacingAndGlyphs">=</text>
<text x="1101.81" y="31.5" font-size="38" textLength="42.88" lengthAdjust="spacingAndGlyphs">50</text>
<text transform="translate(716.1,452.62) rotate(-90)" x="0" y="0" font-size="38" textLength="384.73" lengthAdjust="spacingAndGlyphs">Mean cluster area (µm</text>
<text transform="translate(696.9,66.9) rotate(-90)" x="0" y="0" font-size="19" textLength="10.51" lengthAdjust="spacingAndGlyphs">2</text>
<text transform="translate(716.1,54.48) rotate(-90)" x="0" y="0" font-size="37" textLength="11.02" lengthAdjust="spacingAndGlyphs">)</text>
<text transform="translate(716.1,860.47) rotate(-90)" x="0" y="0" font-size="38" textLength="331.37" lengthAdjust="spacingAndGlyphs">Cluster density (µm</text>
<text transform="translate(696.9,528.94) rotate(-90)" x="0" y="0" font-size="19" textLength="17.56" lengthAdjust="spacingAndGlyphs">-2</text>
<text transform="translate(716.1,510.22) rotate(-90)" x="0" y="0" font-size="37" textLength="12.17" lengthAdjust="spacingAndGlyphs">)</text>
<text x="994.83" y="959.6" font-size="39.5" font-style="italic" textLength="22.54" lengthAdjust="spacingAndGlyphs">T</text>
<text x="1016.06" y="968.6" font-size="20" textLength="31.62" lengthAdjust="spacingAndGlyphs">sub</text>
<text x="1058.22" y="960.2" font-size="39.5" textLength="69.48" lengthAdjust="spacingAndGlyphs">(°C)</text>
<line x1="1536.8" y1="868.8" x2="1536.8" y2="861.2" stroke="#000" stroke-width="2"/>
<line x1="1536.8" y1="57.6" x2="1536.8" y2="65.2" stroke="#000" stroke-width="2"/>
<line x1="1536.8" y1="455.4" x2="1536.8" y2="470.6" stroke="#000" stroke-width="2"/>
<line x1="1607.58" y1="868.8" x2="1607.58" y2="861.2" stroke="#000" stroke-width="2"/>
<line x1="1607.58" y1="57.6" x2="1607.58" y2="65.2" stroke="#000" stroke-width="2"/>
<line x1="1607.58" y1="455.4" x2="1607.58" y2="470.6" stroke="#000" stroke-width="2"/>
<line x1="1678.36" y1="868.8" x2="1678.36" y2="861.2" stroke="#000" stroke-width="2"/>
<line x1="1678.36" y1="57.6" x2="1678.36" y2="65.2" stroke="#000" stroke-width="2"/>
<line x1="1678.36" y1="455.4" x2="1678.36" y2="470.6" stroke="#000" stroke-width="2"/>
<line x1="1749.14" y1="868.8" x2="1749.14" y2="861.2" stroke="#000" stroke-width="2"/>
<line x1="1749.14" y1="57.6" x2="1749.14" y2="65.2" stroke="#000" stroke-width="2"/>
<line x1="1749.14" y1="455.4" x2="1749.14" y2="470.6" stroke="#000" stroke-width="2"/>
<line x1="1819.92" y1="868.8" x2="1819.92" y2="861.2" stroke="#000" stroke-width="2"/>
<line x1="1819.92" y1="57.6" x2="1819.92" y2="65.2" stroke="#000" stroke-width="2"/>
<line x1="1819.92" y1="455.4" x2="1819.92" y2="470.6" stroke="#000" stroke-width="2"/>
<line x1="1890.7" y1="868.8" x2="1890.7" y2="861.2" stroke="#000" stroke-width="2"/>
<line x1="1890.7" y1="57.6" x2="1890.7" y2="65.2" stroke="#000" stroke-width="2"/>
<line x1="1890.7" y1="455.4" x2="1890.7" y2="470.6" stroke="#000" stroke-width="2"/>
<line x1="1961.48" y1="868.8" x2="1961.48" y2="861.2" stroke="#000" stroke-width="2"/>
<line x1="1961.48" y1="57.6" x2="1961.48" y2="65.2" stroke="#000" stroke-width="2"/>
<line x1="1961.48" y1="455.4" x2="1961.48" y2="470.6" stroke="#000" stroke-width="2"/>
<line x1="1572.2" y1="868.8" x2="1572.2" y2="865.3" stroke="#000" stroke-width="2"/>
<line x1="1572.2" y1="57.6" x2="1572.2" y2="61.1" stroke="#000" stroke-width="2"/>
<line x1="1572.2" y1="459.5" x2="1572.2" y2="466.5" stroke="#000" stroke-width="2"/>
<line x1="1642.98" y1="868.8" x2="1642.98" y2="865.3" stroke="#000" stroke-width="2"/>
<line x1="1642.98" y1="57.6" x2="1642.98" y2="61.1" stroke="#000" stroke-width="2"/>
<line x1="1642.98" y1="459.5" x2="1642.98" y2="466.5" stroke="#000" stroke-width="2"/>
<line x1="1713.76" y1="868.8" x2="1713.76" y2="865.3" stroke="#000" stroke-width="2"/>
<line x1="1713.76" y1="57.6" x2="1713.76" y2="61.1" stroke="#000" stroke-width="2"/>
<line x1="1713.76" y1="459.5" x2="1713.76" y2="466.5" stroke="#000" stroke-width="2"/>
<line x1="1784.54" y1="868.8" x2="1784.54" y2="865.3" stroke="#000" stroke-width="2"/>
<line x1="1784.54" y1="57.6" x2="1784.54" y2="61.1" stroke="#000" stroke-width="2"/>
<line x1="1784.54" y1="459.5" x2="1784.54" y2="466.5" stroke="#000" stroke-width="2"/>
<line x1="1855.32" y1="868.8" x2="1855.32" y2="865.3" stroke="#000" stroke-width="2"/>
<line x1="1855.32" y1="57.6" x2="1855.32" y2="61.1" stroke="#000" stroke-width="2"/>
<line x1="1855.32" y1="459.5" x2="1855.32" y2="466.5" stroke="#000" stroke-width="2"/>
<line x1="1926.1" y1="868.8" x2="1926.1" y2="865.3" stroke="#000" stroke-width="2"/>
<line x1="1926.1" y1="57.6" x2="1926.1" y2="61.1" stroke="#000" stroke-width="2"/>
<line x1="1926.1" y1="459.5" x2="1926.1" y2="466.5" stroke="#000" stroke-width="2"/>
<line x1="1501" y1="426" x2="1508.6" y2="426" stroke="#000" stroke-width="2"/>
<line x1="1996.3" y1="426" x2="1988.7" y2="426" stroke="#000" stroke-width="2"/>
<line x1="1501" y1="389.12" x2="1504.5" y2="389.12" stroke="#000" stroke-width="2"/>
<line x1="1996.3" y1="389.12" x2="1992.8" y2="389.12" stroke="#000" stroke-width="2"/>
<line x1="1501" y1="352.24" x2="1508.6" y2="352.24" stroke="#000" stroke-width="2"/>
<line x1="1996.3" y1="352.24" x2="1988.7" y2="352.24" stroke="#000" stroke-width="2"/>
<line x1="1501" y1="315.36" x2="1504.5" y2="315.36" stroke="#000" stroke-width="2"/>
<line x1="1996.3" y1="315.36" x2="1992.8" y2="315.36" stroke="#000" stroke-width="2"/>
<line x1="1501" y1="278.48" x2="1508.6" y2="278.48" stroke="#000" stroke-width="2"/>
<line x1="1996.3" y1="278.48" x2="1988.7" y2="278.48" stroke="#000" stroke-width="2"/>
<line x1="1501" y1="241.6" x2="1504.5" y2="241.6" stroke="#000" stroke-width="2"/>
<line x1="1996.3" y1="241.6" x2="1992.8" y2="241.6" stroke="#000" stroke-width="2"/>
<line x1="1501" y1="204.72" x2="1508.6" y2="204.72" stroke="#000" stroke-width="2"/>
<line x1="1996.3" y1="204.72" x2="1988.7" y2="204.72" stroke="#000" stroke-width="2"/>
<line x1="1501" y1="167.84" x2="1504.5" y2="167.84" stroke="#000" stroke-width="2"/>
<line x1="1996.3" y1="167.84" x2="1992.8" y2="167.84" stroke="#000" stroke-width="2"/>
<line x1="1501" y1="130.96" x2="1508.6" y2="130.96" stroke="#000" stroke-width="2"/>
<line x1="1996.3" y1="130.96" x2="1988.7" y2="130.96" stroke="#000" stroke-width="2"/>
<line x1="1501" y1="94.08" x2="1504.5" y2="94.08" stroke="#000" stroke-width="2"/>
<line x1="1996.3" y1="94.08" x2="1992.8" y2="94.08" stroke="#000" stroke-width="2"/>
<line x1="1501" y1="828.4" x2="1508.6" y2="828.4" stroke="#000" stroke-width="2"/>
<line x1="1996.3" y1="828.4" x2="1988.7" y2="828.4" stroke="#000" stroke-width="2"/>
<line x1="1501" y1="788.24" x2="1504.5" y2="788.24" stroke="#000" stroke-width="2"/>
<line x1="1996.3" y1="788.24" x2="1992.8" y2="788.24" stroke="#000" stroke-width="2"/>
<line x1="1501" y1="748.08" x2="1508.6" y2="748.08" stroke="#000" stroke-width="2"/>
<line x1="1996.3" y1="748.08" x2="1988.7" y2="748.08" stroke="#000" stroke-width="2"/>
<line x1="1501" y1="707.92" x2="1504.5" y2="707.92" stroke="#000" stroke-width="2"/>
<line x1="1996.3" y1="707.92" x2="1992.8" y2="707.92" stroke="#000" stroke-width="2"/>
<line x1="1501" y1="667.76" x2="1508.6" y2="667.76" stroke="#000" stroke-width="2"/>
<line x1="1996.3" y1="667.76" x2="1988.7" y2="667.76" stroke="#000" stroke-width="2"/>
<line x1="1501" y1="627.6" x2="1504.5" y2="627.6" stroke="#000" stroke-width="2"/>
<line x1="1996.3" y1="627.6" x2="1992.8" y2="627.6" stroke="#000" stroke-width="2"/>
<line x1="1501" y1="587.44" x2="1508.6" y2="587.44" stroke="#000" stroke-width="2"/>
<line x1="1996.3" y1="587.44" x2="1988.7" y2="587.44" stroke="#000" stroke-width="2"/>
<line x1="1501" y1="547.28" x2="1504.5" y2="547.28" stroke="#000" stroke-width="2"/>
<line x1="1996.3" y1="547.28" x2="1992.8" y2="547.28" stroke="#000" stroke-width="2"/>
<line x1="1501" y1="507.12" x2="1508.6" y2="507.12" stroke="#000" stroke-width="2"/>
<line x1="1996.3" y1="507.12" x2="1988.7" y2="507.12" stroke="#000" stroke-width="2"/>
<line x1="1501" y1="466.96" x2="1504.5" y2="466.96" stroke="#000" stroke-width="2"/>
<line x1="1996.3" y1="466.96" x2="1992.8" y2="466.96" stroke="#000" stroke-width="2"/>
<rect x="1501" y="57.6" width="495.3" height="811.2" fill="none" stroke="#000" stroke-width="2.2"/>
<line x1="1501" y1="463" x2="1996.3" y2="463" stroke="#000" stroke-width="2.2"/>
<text x="1532.6" y="909" font-size="27" text-anchor="middle">620</text>
<text x="1604.3" y="909" font-size="27" text-anchor="middle">622</text>
<text x="1675.2" y="909" font-size="27" text-anchor="middle">624</text>
<text x="1747.5" y="909" font-size="27" text-anchor="middle">626</text>
<text x="1819.4" y="909" font-size="27" text-anchor="middle">628</text>
<text x="1890.6" y="909" font-size="27" text-anchor="middle">630</text>
<text x="1962.3" y="909" font-size="27" text-anchor="middle">632</text>
<text x="1482.8" y="441" font-size="30.3" text-anchor="end">0.0</text>
<text x="1482.8" y="373.4" font-size="30.3" text-anchor="end">0.5</text>
<text x="1482.8" y="305.8" font-size="30.3" text-anchor="end">1.0</text>
<text x="1482.8" y="238.2" font-size="30.3" text-anchor="end">1.5</text>
<text x="1482.8" y="170.6" font-size="30.3" text-anchor="end">2.0</text>
<text x="1482.8" y="103" font-size="30.3" text-anchor="end">2.5</text>
<text x="1485.6" y="846.1" font-size="30.3" text-anchor="end">0.00</text>
<text x="1485.6" y="766.4" font-size="30.3" text-anchor="end">0.05</text>
<text x="1485.6" y="686.7" font-size="30.3" text-anchor="end">0.10</text>
<text x="1485.6" y="607" font-size="30.3" text-anchor="end">0.15</text>
<text x="1485.6" y="527.3" font-size="30.3" text-anchor="end">0.20</text>
<path d="M1562.30,260.90 L1565.44,260.90 L1568.58,260.90 L1571.72,260.90 L1574.87,260.90 L1578.01,260.90 L1581.15,260.90 L1584.29,260.90 L1587.43,260.90 L1590.58,260.90 L1593.72,260.90 L1596.86,260.90 L1600.00,260.90 L1603.14,260.90 L1606.28,260.90 L1609.42,260.90 L1612.57,260.90 L1615.71,260.90 L1618.85,260.90 L1621.99,260.90 L1625.13,260.90 L1628.27,260.90 L1631.42,260.90 L1634.56,260.90 L1637.70,260.90 L1640.84,260.90 L1643.98,260.90 L1647.12,260.90 L1650.27,260.91 L1653.41,260.91 L1656.55,260.91 L1659.69,260.91 L1662.83,260.91 L1665.97,260.91 L1669.12,260.91 L1672.26,260.92 L1675.40,260.92 L1678.54,260.93 L1681.68,260.93 L1684.83,260.94 L1687.97,260.94 L1691.11,260.95 L1694.25,260.96 L1697.39,260.97 L1700.53,260.99 L1703.67,261.01 L1706.82,261.03 L1709.96,261.05 L1713.10,261.08 L1716.24,261.11 L1719.38,261.16 L1722.52,261.21 L1725.67,261.27 L1728.81,261.34 L1731.95,261.42 L1735.09,261.52 L1738.23,261.65 L1741.38,261.79 L1744.52,261.96 L1747.66,262.17 L1750.80,262.41 L1753.94,262.71 L1757.08,263.05 L1760.22,263.47 L1763.37,263.96 L1766.51,264.54 L1769.65,265.24 L1772.79,266.06 L1775.93,267.02 L1779.08,268.17 L1782.22,269.51 L1785.36,271.09 L1788.50,272.93 L1791.64,275.08 L1794.78,277.56 L1797.92,280.43 L1801.07,283.71 L1804.21,287.45 L1807.35,291.67 L1810.49,296.38 L1813.63,301.60 L1816.77,307.32 L1819.92,313.50 L1823.06,320.09 L1826.20,327.02 L1829.34,334.21 L1832.48,341.55 L1835.62,348.92 L1838.77,356.21 L1841.91,363.30 L1845.05,370.10 L1848.19,376.53 L1851.33,382.52 L1854.47,388.03 L1857.62,393.04 L1860.76,397.55 L1863.90,401.56 L1867.04,405.11 L1870.18,408.21 L1873.32,410.92 L1876.47,413.26 L1879.61,415.27 L1882.75,417.00 L1885.89,418.48 L1889.03,419.73 L1892.17,420.80 L1895.32,421.70 L1898.46,422.47 L1901.60,423.11 L1904.74,423.65 L1907.88,424.11 L1911.03,424.50 L1914.17,424.82 L1917.31,425.09 L1920.45,425.32 L1923.59,425.51 L1926.73,425.67 L1929.88,425.81 L1933.02,425.92 L1936.16,426.01 L1939.30,426.09" fill="none" stroke="#FF0000" stroke-width="3.3" stroke-linejoin="round"/>
<line x1="1561.9" y1="124.2" x2="1561.9" y2="415.1" stroke="#000" stroke-width="2.1"/>
<line x1="1557.8" y1="124.2" x2="1566" y2="124.2" stroke="#000" stroke-width="2.1"/>
<line x1="1557.8" y1="415.1" x2="1566" y2="415.1" stroke="#000" stroke-width="2.1"/>
<line x1="1651.4" y1="100.4" x2="1651.4" y2="414" stroke="#000" stroke-width="2.1"/>
<line x1="1647.3" y1="100.4" x2="1655.5" y2="100.4" stroke="#000" stroke-width="2.1"/>
<line x1="1647.3" y1="414" x2="1655.5" y2="414" stroke="#000" stroke-width="2.1"/>
<line x1="1726.5" y1="179.2" x2="1726.5" y2="361.2" stroke="#000" stroke-width="2.1"/>
<line x1="1722.4" y1="179.2" x2="1730.6" y2="179.2" stroke="#000" stroke-width="2.1"/>
<line x1="1722.4" y1="361.2" x2="1730.6" y2="361.2" stroke="#000" stroke-width="2.1"/>
<line x1="1771" y1="126.4" x2="1771" y2="368.4" stroke="#000" stroke-width="2.1"/>
<line x1="1766.9" y1="126.4" x2="1775.1" y2="126.4" stroke="#000" stroke-width="2.1"/>
<line x1="1766.9" y1="368.4" x2="1775.1" y2="368.4" stroke="#000" stroke-width="2.1"/>
<line x1="1837.4" y1="324.6" x2="1837.4" y2="394.8" stroke="#000" stroke-width="2.1"/>
<line x1="1833.3" y1="324.6" x2="1841.5" y2="324.6" stroke="#000" stroke-width="2.1"/>
<line x1="1833.3" y1="394.8" x2="1841.5" y2="394.8" stroke="#000" stroke-width="2.1"/>
<line x1="1856.4" y1="360.1" x2="1856.4" y2="408.2" stroke="#000" stroke-width="2.1"/>
<line x1="1852.3" y1="360.1" x2="1860.5" y2="360.1" stroke="#000" stroke-width="2.1"/>
<line x1="1852.3" y1="408.2" x2="1860.5" y2="408.2" stroke="#000" stroke-width="2.1"/>
<rect x="1555.9" y="263.8" width="12" height="12" fill="#000"/>
<rect x="1645.4" y="251.6" width="12" height="12" fill="#000"/>
<rect x="1720.5" y="263.8" width="12" height="12" fill="#000"/>
<rect x="1765" y="241.9" width="12" height="12" fill="#000"/>
<rect x="1831.4" y="353.7" width="12" height="12" fill="#000"/>
<rect x="1850.4" y="378.5" width="12" height="12" fill="#000"/>
<rect x="1893.9" y="420.4" width="12" height="12" fill="#000"/>
<rect x="1933" y="420.4" width="12" height="12" fill="#000"/>
<path d="M1562.20,543.45 L1565.34,543.77 L1568.49,544.10 L1571.63,544.45 L1574.77,544.82 L1577.91,545.22 L1581.06,545.65 L1584.20,546.10 L1587.34,546.58 L1590.48,547.10 L1593.62,547.64 L1596.77,548.22 L1599.91,548.84 L1603.05,549.49 L1606.19,550.18 L1609.34,550.92 L1612.48,551.70 L1615.62,552.53 L1618.77,553.42 L1621.91,554.35 L1625.05,555.34 L1628.19,556.39 L1631.34,557.50 L1634.48,558.68 L1637.62,559.92 L1640.76,561.23 L1643.90,562.62 L1647.05,564.09 L1650.19,565.64 L1653.33,567.27 L1656.47,568.99 L1659.62,570.81 L1662.76,572.71 L1665.90,574.72 L1669.05,576.82 L1672.19,579.03 L1675.33,581.35 L1678.47,583.77 L1681.62,586.31 L1684.76,588.96 L1687.90,591.73 L1691.04,594.61 L1694.18,597.61 L1697.33,600.73 L1700.47,603.97 L1703.61,607.33 L1706.76,610.81 L1709.90,614.40 L1713.04,618.11 L1716.18,621.93 L1719.33,625.86 L1722.47,629.90 L1725.61,634.03 L1728.75,638.26 L1731.89,642.58 L1735.04,646.98 L1738.18,651.45 L1741.32,655.99 L1744.46,660.59 L1747.61,665.24 L1750.75,669.94 L1753.89,674.66 L1757.04,679.40 L1760.18,684.16 L1763.32,688.92 L1766.46,693.67 L1769.61,698.40 L1772.75,703.10 L1775.89,707.76 L1779.03,712.38 L1782.17,716.94 L1785.32,721.43 L1788.46,725.86 L1791.60,730.20 L1794.74,734.46 L1797.89,738.62 L1801.03,742.68 L1804.17,746.65 L1807.32,750.50 L1810.46,754.24 L1813.60,757.87 L1816.74,761.38 L1819.88,764.78 L1823.03,768.06 L1826.17,771.21 L1829.31,774.25 L1832.45,777.17 L1835.60,779.97 L1838.74,782.66 L1841.88,785.23 L1845.03,787.69 L1848.17,790.03 L1851.31,792.27 L1854.45,794.41 L1857.60,796.44 L1860.74,798.38 L1863.88,800.22 L1867.02,801.97 L1870.16,803.63 L1873.31,805.20 L1876.45,806.69 L1879.59,808.11 L1882.73,809.44 L1885.88,810.71 L1889.02,811.90 L1892.16,813.03 L1895.30,814.10 L1898.45,815.11 L1901.59,816.06 L1904.73,816.96 L1907.88,817.80 L1911.02,818.60 L1914.16,819.35 L1917.30,820.06 L1920.44,820.72 L1923.59,821.35 L1926.73,821.94 L1929.87,822.49 L1933.01,823.01 L1936.16,823.51 L1939.30,823.97" fill="none" stroke="#FF0000" stroke-width="3.3" stroke-linejoin="round"/>
<rect x="1556.2" y="535.2" width="12" height="12" fill="#000"/>
<rect x="1645.9" y="558.6" width="12" height="12" fill="#000"/>
<rect x="1720.7" y="636" width="12" height="12" fill="#000"/>
<rect x="1765" y="688.2" width="12" height="12" fill="#000"/>
<rect x="1831" y="776.8" width="12" height="12" fill="#000"/>
<rect x="1850.4" y="789.3" width="12" height="12" fill="#000"/>
<rect x="1894" y="823" width="12" height="12" fill="#000"/>
<rect x="1933.3" y="823" width="12" height="12" fill="#000"/>
<line x1="1725.1" y1="512.3" x2="1739.3" y2="512.3" stroke="#FF0000" stroke-width="1.6"/>
<text x="1749.28" y="520" font-size="29" textLength="118.38" lengthAdjust="spacingAndGlyphs">logistic fit</text>
<rect x="1726.3" y="534" width="11.5" height="20.6" fill="#ADD79E"/>
<text x="1749.29" y="550.3" font-size="29" textLength="237.6" lengthAdjust="spacingAndGlyphs">phase coexistance</text>
<text x="1512.32" y="36.9" font-size="40" font-weight="bold" textLength="21.33" lengthAdjust="spacingAndGlyphs">c</text>
<text x="1653.32" y="31.8" font-size="42.5" font-style="italic" textLength="32.46" lengthAdjust="spacingAndGlyphs">Φ</text>
<text x="1685.12" y="38.7" font-size="19" textLength="52.33" lengthAdjust="spacingAndGlyphs">Se/Ga</text>
<text x="1750.87" y="31.1" font-size="38" textLength="20.83" lengthAdjust="spacingAndGlyphs">=</text>
<text x="1784.01" y="31.5" font-size="38" textLength="63.09" lengthAdjust="spacingAndGlyphs">100</text>
<text transform="translate(1399.9,452.62) rotate(-90)" x="0" y="0" font-size="38" textLength="384.73" lengthAdjust="spacingAndGlyphs">Mean cluster area (µm</text>
<text transform="translate(1380.7,66.9) rotate(-90)" x="0" y="0" font-size="19" textLength="10.51" lengthAdjust="spacingAndGlyphs">2</text>
<text transform="translate(1399.9,54.48) rotate(-90)" x="0" y="0" font-size="37" textLength="11.02" lengthAdjust="spacingAndGlyphs">)</text>
<text transform="translate(1399.9,860.47) rotate(-90)" x="0" y="0" font-size="38" textLength="331.37" lengthAdjust="spacingAndGlyphs">Cluster density (µm</text>
<text transform="translate(1380.7,528.94) rotate(-90)" x="0" y="0" font-size="19" textLength="17.56" lengthAdjust="spacingAndGlyphs">-2</text>
<text transform="translate(1399.9,510.22) rotate(-90)" x="0" y="0" font-size="37" textLength="12.17" lengthAdjust="spacingAndGlyphs">)</text>
<text x="1688.21" y="959.5" font-size="39.5" font-style="italic" textLength="20.64" lengthAdjust="spacingAndGlyphs">T</text>
<text x="1708.49" y="968.6" font-size="20" textLength="29.84" lengthAdjust="spacingAndGlyphs">sub</text>
<text x="1748.59" y="960.2" font-size="39.5" textLength="70.24" lengthAdjust="spacingAndGlyphs">(°C)</text></svg></body></html>
